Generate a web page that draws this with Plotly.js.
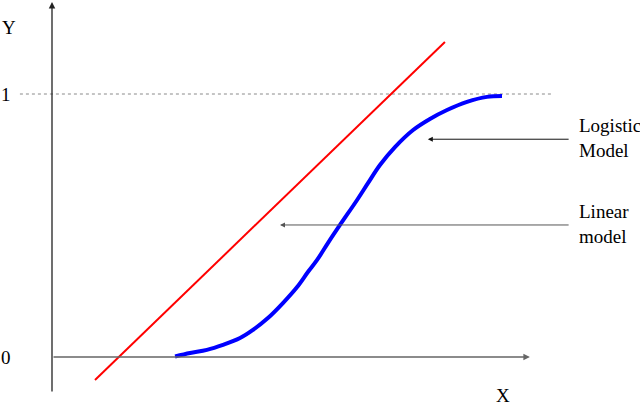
<!DOCTYPE html>
<html>
<head>
<meta charset="utf-8">
<script src="https://cdn.plot.ly/plotly-3.0.1.min.js"></script>
<style>html,body{margin:0;padding:0;background:#fff;}#chart{width:640px;height:406px;}</style>
</head>
<body>
<div id="chart"></div>
<script>
// Linear model (straight line)
const linearX = [0.1635, 1.494];
const linearY = [-0.0875, 1.198];
// Logistic model (S-curve)
const logisticX = [0.468, 0.525, 0.589, 0.650, 0.715, 0.764, 0.821, 0.878, 0.932, 0.973, 1.008, 1.049, 1.095, 1.160, 1.202, 1.247, 1.304, 1.373, 1.437, 1.502, 1.578, 1.654, 1.711];
const logisticY = [0.002, 0.015, 0.027, 0.046, 0.072, 0.103, 0.148, 0.205, 0.266, 0.323, 0.369, 0.433, 0.502, 0.597, 0.662, 0.730, 0.798, 0.863, 0.905, 0.939, 0.970, 0.989, 0.992];
// Upper asymptote reference
const refY = 1;
const refX = [-0.122, 1.905];
// Tick labels on the Y axis
const tickVals = [0, 1];
const tickText = ["0", "1"];
// Axis extents
const xAxisEnd = 1.817;
const yAxisTop = 1.35;
const yAxisBottom = -0.137;
// Callout labels (two lines each)
const calloutLine1 = ["Logistic", "Linear"];
const calloutLine2 = ["Model", "model"];
const calloutTipX = [1.429, 0.867];
const calloutTipY = [0.828, 0.502];
const calloutTailX = 1.970;

const FONT = "Liberation Serif, Times New Roman, serif";

const traces = [
  {x: refX, y: [refY, refY], mode: "lines", line: {color: "#8a8a8a", width: 1, dash: "dot"}, hoverinfo: "skip"},
  {x: linearX, y: linearY, mode: "lines", line: {color: "#ff0000", width: 2}, name: "Linear model"},
  {x: logisticX, y: logisticY, mode: "lines", line: {color: "#0000ff", width: 4, shape: "spline", smoothing: 1}, name: "Logistic model"}
];

const annotations = [];
// Y axis arrow
annotations.push({x: 0, y: yAxisTop, ax: 0, ay: yAxisBottom, xref: "x", yref: "y", axref: "x", ayref: "y",
  text: "", showarrow: true, arrowhead: 2, arrowsize: 1, arrowwidth: 1.3, arrowcolor: "#222"});
// X axis arrow
annotations.push({x: xAxisEnd, y: 0, ax: 0, ay: 0, xref: "x", yref: "y", axref: "x", ayref: "y",
  text: "", showarrow: true, arrowhead: 2, arrowsize: 1, arrowwidth: 1.3, arrowcolor: "#666"});
// Axis names
annotations.push({x: -0.1977, y: 1.254, xref: "x", yref: "y", text: "Y", showarrow: false, xanchor: "left",
  font: {family: FONT, size: 19, color: "#000"}});
annotations.push({x: 1.715, y: -0.148, xref: "x", yref: "y", text: "X", showarrow: false,
  font: {family: FONT, size: 19, color: "#000"}});
// Tick labels
tickVals.forEach((v, i) => {
  annotations.push({x: -0.176, y: v, xref: "x", yref: "y", text: tickText[i], showarrow: false,
    font: {family: FONT, size: 19, color: "#000"}});
});
// Callouts
calloutLine1.forEach((t, i) => {
  annotations.push({x: calloutTipX[i], y: calloutTipY[i], ax: calloutTailX, ay: calloutTipY[i],
    xref: "x", yref: "y", axref: "x", ayref: "y", text: "", showarrow: true,
    arrowhead: 2, arrowsize: 1, arrowwidth: 1, arrowcolor: i === 0 ? "#111" : "#555"});
  annotations.push({x: calloutTailX + 0.028, y: calloutTipY[i] + 0.052, xref: "x", yref: "y", text: t, showarrow: false,
    xanchor: "left", yanchor: "middle", align: "left",
    font: {family: FONT, size: 19, color: "#000"}});
  annotations.push({x: calloutTailX + 0.028, y: calloutTipY[i] - 0.042, xref: "x", yref: "y", text: calloutLine2[i], showarrow: false,
    xanchor: "left", yanchor: "middle", align: "left",
    font: {family: FONT, size: 19, color: "#000"}});
});

const layout = {
  width: 640, height: 406,
  margin: {l: 0, r: 0, t: 0, b: 0, pad: 0},
  paper_bgcolor: "#fff", plot_bgcolor: "#fff",
  showlegend: false,
  xaxis: {range: [-0.1977, 2.2357], visible: false, fixedrange: true},
  yaxis: {range: [-0.1863, 1.3574], visible: false, fixedrange: true},
  annotations: annotations
};

Plotly.newPlot("chart", traces, layout, {staticPlot: true, displayModeBar: false});
</script>
</body>
</html>
